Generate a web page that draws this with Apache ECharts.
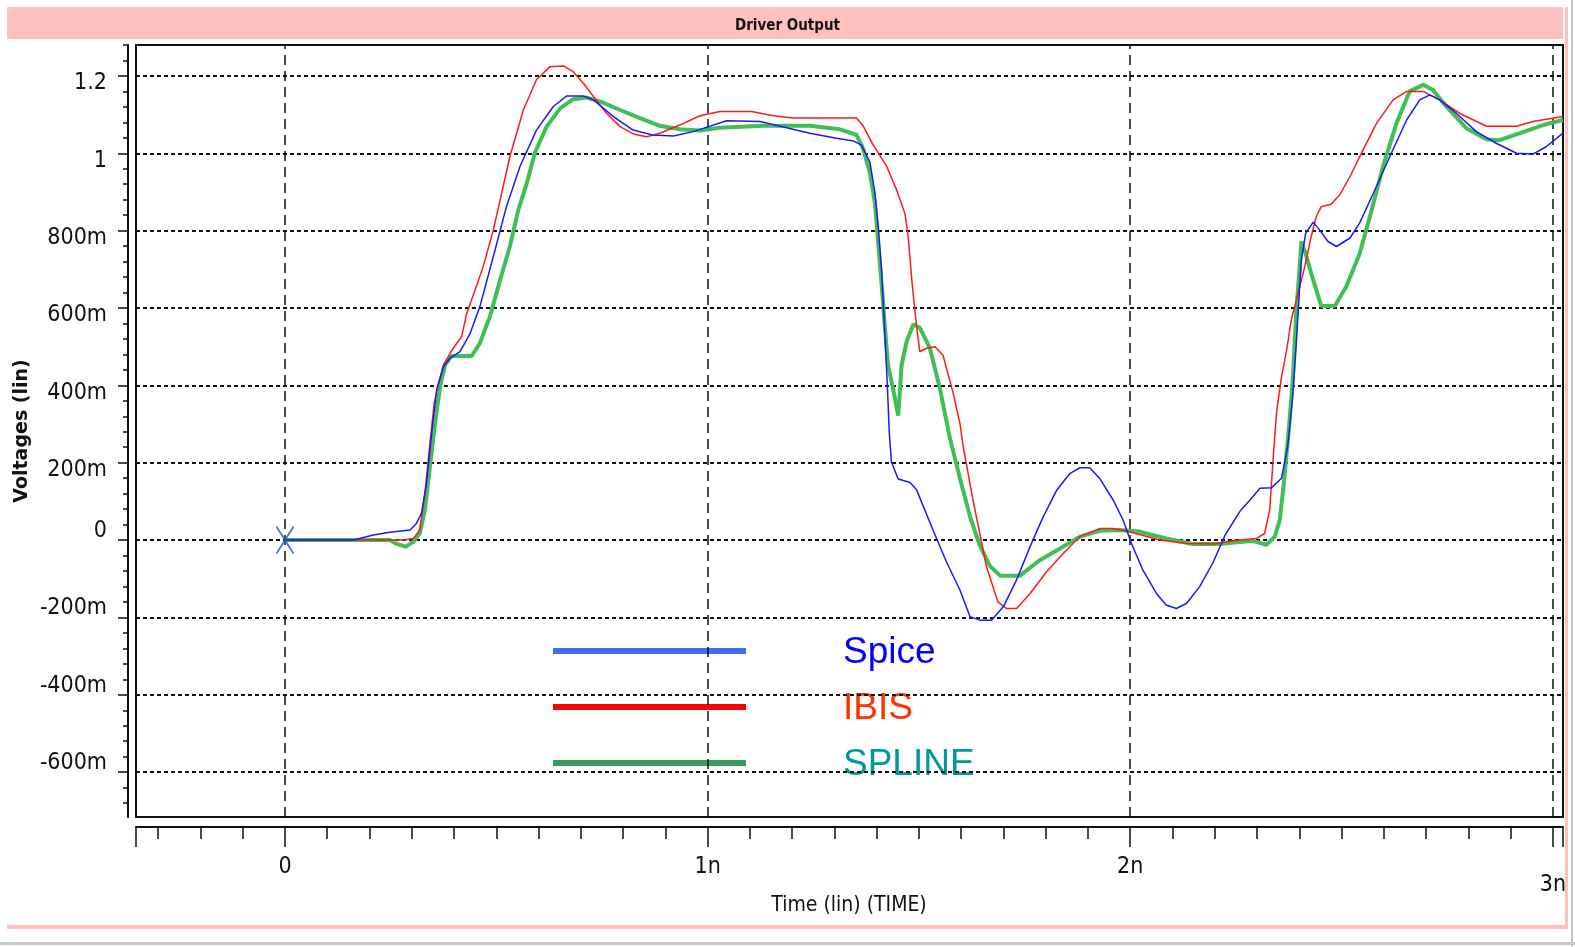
<!DOCTYPE html>
<html><head><meta charset="utf-8">
<script src="https://cdn.jsdelivr.net/npm/echarts/dist/echarts.min.js"></script>
<style>html,body{margin:0;padding:0;background:#fff}#c{width:1575px;height:947px}</style>
</head><body><div id="c"></div><script>
// ---- data (time in ns, voltage in V) ----
const spicePoints = [[0,0],[0.162,0],[0.209,0.013],[0.248,0.02],[0.296,0.026],[0.311,0.043],[0.323,0.069],[0.335,0.147],[0.347,0.276],[0.359,0.388],[0.375,0.448],[0.39,0.47],[0.414,0.487],[0.438,0.534],[0.461,0.603],[0.493,0.733],[0.524,0.862],[0.556,0.966],[0.595,1.06],[0.635,1.121],[0.666,1.148],[0.706,1.148],[0.73,1.138],[0.777,1.095],[0.824,1.06],[0.871,1.047],[0.919,1.045],[0.966,1.056],[1.045,1.084],[1.124,1.082],[1.187,1.066],[1.242,1.052],[1.305,1.039],[1.345,1.032],[1.364,1.021],[1.384,0.977],[1.396,0.897],[1.404,0.808],[1.412,0.692],[1.419,0.54],[1.425,0.407],[1.43,0.274],[1.435,0.202],[1.451,0.158],[1.479,0.149],[1.494,0.131],[1.534,0.024],[1.565,-0.056],[1.597,-0.129],[1.621,-0.198],[1.644,-0.207],[1.672,-0.207],[1.7,-0.172],[1.731,-0.103],[1.763,-0.017],[1.794,0.06],[1.826,0.129],[1.857,0.172],[1.881,0.187],[1.904,0.187],[1.928,0.159],[1.96,0.103],[1.983,0.052],[2.003,-0.009],[2.03,-0.078],[2.062,-0.138],[2.085,-0.168],[2.109,-0.177],[2.133,-0.164],[2.164,-0.121],[2.196,-0.058],[2.224,0.012],[2.26,0.075],[2.283,0.103],[2.307,0.134],[2.334,0.135],[2.358,0.16],[2.373,0.245],[2.385,0.379],[2.393,0.509],[2.4,0.638],[2.405,0.724],[2.415,0.793],[2.433,0.822],[2.448,0.802],[2.468,0.772],[2.488,0.759],[2.52,0.781],[2.543,0.82],[2.575,0.896],[2.614,0.991],[2.654,1.086],[2.685,1.138],[2.709,1.151],[2.732,1.138],[2.772,1.103],[2.819,1.056],[2.866,1.026],[2.914,1.0],[2.953,0.998],[2.984,1.017],[3.024,1.052]];

const ibisPoints = [[0,0],[0.28,0],[0.304,0.004],[0.319,0.026],[0.331,0.121],[0.343,0.25],[0.353,0.353],[0.363,0.405],[0.375,0.453],[0.398,0.496],[0.418,0.526],[0.43,0.586],[0.45,0.647],[0.469,0.707],[0.493,0.802],[0.509,0.879],[0.532,0.991],[0.564,1.112],[0.595,1.19],[0.627,1.224],[0.659,1.226],[0.682,1.211],[0.706,1.181],[0.73,1.147],[0.761,1.103],[0.793,1.069],[0.824,1.05],[0.856,1.043],[0.887,1.052],[0.934,1.073],[0.982,1.097],[1.029,1.108],[1.104,1.108],[1.155,1.097],[1.203,1.091],[1.352,1.091],[1.368,1.071],[1.392,1.021],[1.423,0.968],[1.447,0.906],[1.467,0.844],[1.475,0.781],[1.483,0.674],[1.493,0.567],[1.502,0.487],[1.518,0.496],[1.538,0.5],[1.557,0.478],[1.581,0.38],[1.597,0.302],[1.605,0.24],[1.628,0.103],[1.66,-0.069],[1.687,-0.16],[1.707,-0.177],[1.731,-0.177],[1.763,-0.138],[1.802,-0.082],[1.842,-0.034],[1.881,0.009],[1.928,0.03],[1.96,0.03],[2.007,0.019],[2.07,0],[2.133,-0.009],[2.196,-0.01],[2.243,-0.002],[2.298,0.004],[2.318,0.017],[2.33,0.078],[2.338,0.207],[2.346,0.328],[2.358,0.422],[2.37,0.491],[2.381,0.569],[2.397,0.638],[2.413,0.707],[2.428,0.784],[2.44,0.836],[2.452,0.862],[2.476,0.869],[2.496,0.893],[2.52,0.94],[2.551,1.009],[2.583,1.078],[2.622,1.138],[2.654,1.16],[2.693,1.16],[2.732,1.138],[2.78,1.103],[2.843,1.07],[2.914,1.07],[2.953,1.082],[3.024,1.095]];

const splinePoints = [[0,0],[0.248,0],[0.264,-0.01],[0.286,-0.017],[0.304,-0.004],[0.319,0.017],[0.331,0.078],[0.343,0.19],[0.355,0.302],[0.367,0.397],[0.379,0.453],[0.394,0.476],[0.442,0.476],[0.461,0.509],[0.485,0.578],[0.509,0.672],[0.532,0.759],[0.552,0.853],[0.572,0.922],[0.591,1.0],[0.619,1.069],[0.651,1.116],[0.682,1.14],[0.714,1.144],[0.745,1.134],[0.793,1.112],[0.84,1.091],[0.887,1.071],[0.934,1.062],[0.982,1.059],[1.029,1.066],[1.132,1.071],[1.242,1.071],[1.313,1.062],[1.352,1.048],[1.368,1.012],[1.384,0.95],[1.396,0.87],[1.404,0.763],[1.412,0.657],[1.419,0.558],[1.427,0.452],[1.439,0.39],[1.451,0.322],[1.459,0.452],[1.471,0.514],[1.487,0.558],[1.502,0.549],[1.526,0.496],[1.55,0.39],[1.573,0.265],[1.597,0.16],[1.621,0.06],[1.644,-0.014],[1.668,-0.067],[1.692,-0.092],[1.739,-0.092],[1.786,-0.052],[1.834,-0.022],[1.881,0.009],[1.928,0.024],[1.975,0.026],[2.022,0.022],[2.085,0.004],[2.148,-0.01],[2.211,-0.01],[2.29,-0.002],[2.322,-0.012],[2.342,0.009],[2.354,0.052],[2.365,0.164],[2.377,0.31],[2.385,0.422],[2.393,0.595],[2.4,0.69],[2.405,0.772],[2.415,0.741],[2.428,0.69],[2.452,0.605],[2.484,0.605],[2.511,0.655],[2.543,0.741],[2.567,0.836],[2.598,0.965],[2.63,1.078],[2.661,1.16],[2.693,1.177],[2.716,1.164],[2.748,1.121],[2.795,1.065],[2.843,1.036],[2.874,1.034],[2.922,1.052],[2.977,1.073],[3.024,1.086]];

const originMarker = [[0, 0]];

const seriesNames = ['Spice', 'IBIS', 'SPLINE'];

const xTickValues = [0, 1, 2, 3];
const xTickLabels = ['0', '1n', '2n', '3n'];
const xLabelValuesMain = [0, 1, 2];
const xLabelValuesEnd = [3];
const xMajorTickMarks = [-0.3525, 0, 1, 2, 3, 3.024];
const xMinorTicks = [-0.3,-0.2,-0.1,0.1,0.2,0.3,0.4,0.5,0.6,0.7,0.8,0.9,1.1,1.2,1.3,1.4,1.5,1.6,1.7,1.8,1.9,2.1,2.2,2.3,2.4,2.5,2.6,2.7,2.8,2.9];

const yTickValues = [-0.6,-0.4,-0.2,0,0.2,0.4,0.6,0.8,1,1.2];
const yTickLabels = ['-600m','-400m','-200m','0','200m','400m','600m','800m','1','1.2'];
const yMinorTicks = [-0.68,-0.64,-0.56,-0.52,-0.48,-0.44,-0.36,-0.32,-0.28,-0.24,-0.16,-0.12,-0.08,-0.04,0.04,0.08,0.12,0.16,0.24,0.28,0.32,0.36,0.44,0.48,0.52,0.56,0.64,0.68,0.72,0.76,0.84,0.88,0.92,0.96,1.04,1.08,1.12,1.16,1.24,1.28];

const xAxisTitle = 'Time (lin) (TIME)';
const yAxisTitle = 'Voltages (lin)';

// ---- layout / style ----
const X_MIN = -0.3525, X_MAX = 3.024, Y_MIN = -0.716, Y_MAX = 1.28;
const NARROW = '"DejaVu Sans Condensed","Liberation Sans Narrow",sans-serif';
const ARIAL = '"Liberation Sans",Arial,sans-serif';

const chart = echarts.init(document.getElementById('c'), null, {renderer: 'canvas'});

const hLines = yTickValues.map(v => ({yAxis: v, lineStyle: {type: [4, 3], width: 2, color: '#111'}}));
const vLines = xTickValues.map(v => ({xAxis: v, lineStyle: {type: [10, 6], width: 1.5, color: '#111'}}));

function findIdx(arr, v) { let i = -1; arr.forEach((t, k) => { if (Math.abs(t - v) < 1e-6) i = k; }); return i; }
function xLabel(v) { const i = findIdx(xTickValues, v); return i >= 0 ? xTickLabels[i] : ''; }

const option = {
  animation: false,
  backgroundColor: '#ffffff',
  title: [{
    text: 'Driver Output', left: 'center', top: 14,
    textStyle: {fontFamily: NARROW, fontSize: 15, fontWeight: 'bold', color: '#111'}
  }, {
    text: xAxisTitle, left: 849, textAlign: 'center', top: 895, padding: 0,
    textStyle: {fontFamily: NARROW, fontSize: 21, fontWeight: 'normal', color: '#111'}
  }],
  grid: {left: 136, right: 12, top: 45, bottom: 130, show: true, borderColor: '#111', borderWidth: 2, backgroundColor: 'transparent'},
  xAxis: [{
    type: 'value', min: X_MIN, max: X_MAX, position: 'bottom', offset: 10,
    axisLine: {show: true, onZero: false, lineStyle: {color: '#111', width: 2}},
    axisTick: {show: true, customValues: xMajorTickMarks, length: 20, lineStyle: {color: '#111', width: 1.5}},
    axisLabel: {
      show: true, customValues: xLabelValuesMain, margin: 31, lineHeight: 18,
      fontFamily: NARROW, fontSize: 23, color: '#111', formatter: xLabel
    },
    splitLine: {show: false}
  }, {
    type: 'value', min: X_MIN, max: X_MAX, position: 'bottom', offset: 10,
    axisLine: {show: false, onZero: false},
    axisTick: {show: true, customValues: xMinorTicks, length: 12, lineStyle: {color: '#111', width: 1.5}},
    axisLabel: {show: false},
    splitLine: {show: false}
  }, {
    type: 'value', min: X_MIN, max: X_MAX, position: 'bottom', offset: 10,
    axisLine: {show: false, onZero: false},
    axisTick: {show: false},
    axisLabel: {
      show: true, customValues: xLabelValuesEnd, margin: 49, lineHeight: 18,
      fontFamily: NARROW, fontSize: 23, color: '#111', formatter: xLabel
    },
    splitLine: {show: false}
  }],
  yAxis: [{
    type: 'value', min: Y_MIN, max: Y_MAX, position: 'left', offset: 8,
    axisLine: {show: true, onZero: false, lineStyle: {color: '#111', width: 2}},
    axisTick: {show: true, customValues: yTickValues, length: 10, lineStyle: {color: '#111', width: 1.5}},
    axisLabel: {
      show: true, customValues: yTickValues, margin: 21,
      formatter: v => { const i = findIdx(yTickValues, v); const s = i >= 0 ? yTickLabels[i] : ''; return v > 1e-6 ? '{sp| }\n{t|' + s + '}' : '{t|' + s + '}\n{sn| }'; },
      rich: {
        t: {fontFamily: NARROW, fontSize: 23, color: '#111', lineHeight: 24},
        sp: {fontSize: 1, lineHeight: 15},
        sn: {fontSize: 1, lineHeight: 18}
      }
    },
    splitLine: {show: false},
    name: yAxisTitle, nameLocation: 'middle', nameGap: 96, nameRotate: 90, nameMoveOverlap: false,
    nameTextStyle: {fontFamily: '"DejaVu Sans",Verdana,sans-serif', fontSize: 19, fontWeight: 'bold', color: '#111'}
  }, {
    type: 'value', min: Y_MIN, max: Y_MAX, position: 'left', offset: 8,
    axisLine: {show: false, onZero: false},
    axisTick: {show: true, customValues: yMinorTicks, length: 5, lineStyle: {color: '#111', width: 1.5}},
    axisLabel: {show: false},
    splitLine: {show: false}
  }],
  graphic: [
    {type: 'rect', z: 0, shape: {x: 7, y: 7, width: 1556, height: 32}, style: {fill: '#ffc0c0'}},
    {type: 'rect', z: 0, shape: {x: 1565, y: 7, width: 3, height: 922}, style: {fill: '#ffc0c0'}},
    {type: 'rect', z: 0, shape: {x: 7, y: 925, width: 1561, height: 4}, style: {fill: '#ffc0c0'}},
    {type: 'rect', z: 0, shape: {x: 0, y: 942, width: 1575, height: 3}, style: {fill: '#c8c8c8'}},
    {type: 'rect', z: 0, shape: {x: 1571, y: 0, width: 2, height: 947}, style: {fill: '#c8c8c8'}},
    {type: 'rect', z: 0, shape: {x: 553, y: 648, width: 193, height: 6}, style: {fill: '#3d6ef0'}},
    {type: 'rect', z: 0, shape: {x: 553, y: 704, width: 193, height: 6}, style: {fill: '#ff0000'}},
    {type: 'rect', z: 0, shape: {x: 553, y: 760, width: 193, height: 6}, style: {fill: '#3a9a62'}},
    {type: 'text', z: 0, x: 843, y: 653, style: {text: seriesNames[0], fill: '#0000ff', font: '37px ' + ARIAL, verticalAlign: 'middle'}},
    {type: 'text', z: 0, x: 843, y: 709, style: {text: seriesNames[1], fill: '#ff3300', font: '37px ' + ARIAL, verticalAlign: 'middle'}},
    {type: 'text', z: 0, x: 843, y: 765, style: {text: seriesNames[2], fill: '#009999', font: '37px ' + ARIAL, verticalAlign: 'middle'}}
  ],
  series: [{
    name: seriesNames[2], type: 'line', xAxisIndex: 0, yAxisIndex: 0, data: splinePoints,
    showSymbol: false, symbol: 'none', z: 2, clip: true,
    lineStyle: {color: '#3fbf55', width: 4},
    markLine: {silent: true, z: 1, symbol: 'none', label: {show: false}, animation: false, data: hLines.concat(vLines)}
  }, {
    name: seriesNames[1], type: 'line', xAxisIndex: 0, yAxisIndex: 0, data: ibisPoints,
    showSymbol: false, symbol: 'none', z: 3, clip: true,
    lineStyle: {color: '#ff1a1a', width: 1.5}
  }, {
    name: seriesNames[0], type: 'line', xAxisIndex: 0, yAxisIndex: 0, data: spicePoints,
    showSymbol: false, symbol: 'none', z: 4, clip: true,
    lineStyle: {color: '#1a1aff', width: 1.5}
  }, {
    name: 'origin', type: 'scatter', xAxisIndex: 0, yAxisIndex: 0, data: originMarker, z: 5,
    symbol: 'path://M0,0L10,16M10,0L0,16', symbolSize: [17, 27],
    itemStyle: {color: 'transparent', borderColor: '#2255cc', borderWidth: 2}
  }]
};
chart.setOption(option);
</script></body></html>
